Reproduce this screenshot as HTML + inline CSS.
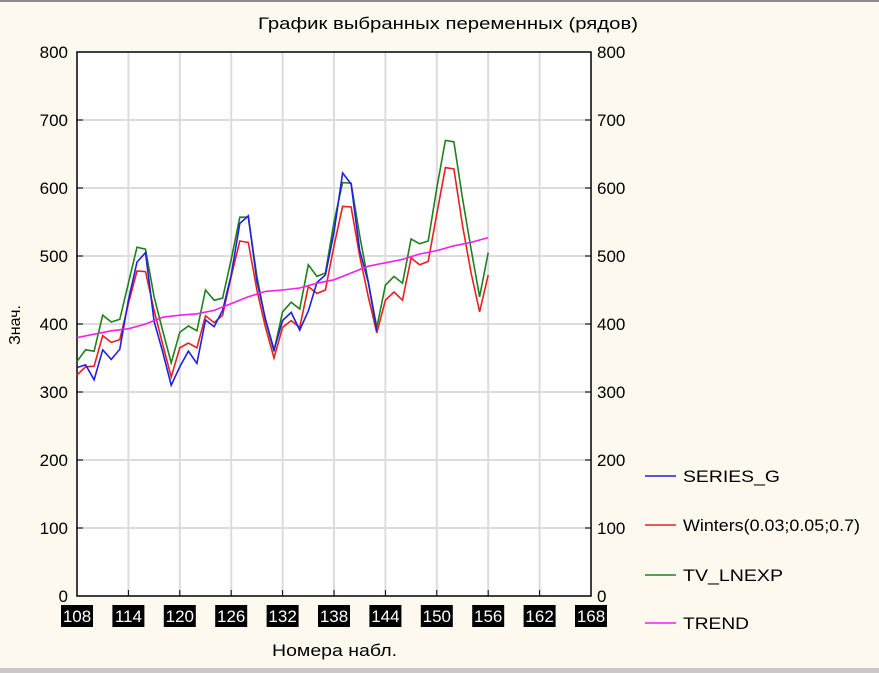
<!DOCTYPE html>
<html><head><meta charset="utf-8"><style>
body{margin:0;background:#fdf9ef;}
svg{display:block;font-family:"Liberation Sans",sans-serif;}
</style></head><body>
<svg id="c" width="879" height="673">
<rect x="0" y="0" width="879" height="673" fill="#fdf9ef"/>
<rect x="0" y="0" width="879" height="2" fill="#8a8a8a"/>
<rect x="0" y="668" width="879" height="5" fill="#c8c8c8"/>
<text x="258" y="29" font-size="17" textLength="380" lengthAdjust="spacingAndGlyphs" fill="#000">График выбранных переменных (рядов)</text>
<text x="272" y="656" font-size="17" textLength="125" lengthAdjust="spacingAndGlyphs" fill="#000">Номера набл.</text>
<text x="0" y="0" font-size="16" text-anchor="middle" fill="#000" transform="translate(20,325) rotate(-90)">Знач.</text>
<g id="plot"></g>
</svg>
<script>
const xTicks=[108,114,120,126,132,138,144,150,156,162,168];
const yTicks=[0,100,200,300,400,500,600,700,800];
const cases=[108,109,110,111,112,113,114,115,116,117,118,119,120,121,122,123,124,125,126,127,128,129,130,131,132,133,134,135,136,137,138,139,140,141,142,143,144,145,146,147,148,149,150,151,152,153,154,155,156];
const seriesG=[336,340,318,362,348,363,435,491,505,404,359,310,337,360,342,406,396,420,472,548,559,463,407,362,405,417,391,419,461,472,535,622,606,508,461,390];
const winters=[325,337,338,383,373,377,430,478,477,420,370,322,365,372,365,412,402,413,470,522,520,450,395,350,395,405,395,455,445,450,515,573,572,500,440,387,435,447,435,497,487,492,562,630,628,545,475,418,472];
const tvLnexp=[345,362,360,413,403,407,460,513,510,440,390,343,388,397,390,450,435,438,495,557,557,470,405,360,418,432,422,487,470,475,550,608,607,530,462,395,457,470,460,525,518,522,600,670,668,585,510,440,505];
const trendCases=[108,110,112,114,116,118,120,122,124,126,128,130,132,134,136,138,140,142,144,146,148,150,152,154,156];
const trend=[380,385,390,393,400,410,413,415,420,430,440,448,450,453,460,465,475,485,490,495,503,508,515,520,527];
const seriesNames=["SERIES_G","Winters(0.03;0.05;0.7)","TV_LNEXP","TREND"];
const legendWidths=[97,177,100,66];
const seriesColors=["#2020e0","#e82020","#208020","#f020f0"];

const X0=77,X1=591,Y0=596,Y1=52;
const xs=v=>X0+(v-108)/(168-108)*(X1-X0);
const ys=v=>Y0-(v/800)*(Y0-Y1);
const NS="http://www.w3.org/2000/svg";
const g=document.getElementById('plot');
function mk(t,a,p){const e=document.createElementNS(NS,t);for(const k in a)e.setAttribute(k,a[k]);(p||g).appendChild(e);return e;}
mk('rect',{x:X0,y:Y1,width:X1-X0,height:Y0-Y1,fill:'#fff'});
xTicks.forEach(t=>{
 const x=xs(t);
 if(t>108&&t<168){const l=mk('line',{x1:x,x2:x,y1:Y1,y2:Y0,stroke:'#dcdcdc','stroke-width':2});
 
 }
 mk('line',{x1:x,x2:x,y1:Y0-6,y2:Y0,stroke:'#000'});
 const r=mk('rect',{x:x-16,y:605,width:32,height:22,fill:'#000'});
 
 
 const tx=mk('text',{x:x,y:622,'font-size':17,'text-anchor':'middle',fill:'#fff'});
 tx.textContent=t;
 
 
});
yTicks.forEach(t=>{
 const y=ys(t);
 if(t>0&&t<800){const l=mk('line',{x1:X0,x2:X1,y1:y,y2:y,stroke:'#dcdcdc','stroke-width':2});
 
 }
 mk('line',{x1:X0,x2:X0+6,y1:y,y2:y,stroke:'#000'});
 mk('line',{x1:X1-6,x2:X1,y1:y,y2:y,stroke:'#000'});
 const a=mk('text',{x:68,y:y+6,'font-size':17,'text-anchor':'end',fill:'#000'});
 a.textContent=t;
 
 
 const b=mk('text',{x:597,y:y+6,'font-size':17,fill:'#000'});
 b.textContent=t;
 
 
});
mk('rect',{x:X0,y:Y1,width:X1-X0,height:Y0-Y1,fill:'none',stroke:'#000','stroke-width':1.5});
function line(xsArr,vals,col,name){
 const pts=vals.map((v,i)=>xs(xsArr[i]).toFixed(1)+','+ys(v).toFixed(1)).join(' ');
 const p=mk('polyline',{points:pts,fill:'none',stroke:col,'stroke-width':1.6});
 
 
}
line(cases,tvLnexp,seriesColors[2],'tv-lnexp-line');
line(cases,winters,seriesColors[1],'winters-line');
line(cases,seriesG,seriesColors[0],'series-g-line');
line(trendCases,trend,seriesColors[3],'trend-line');
const legY=[476,525,575,623];
seriesNames.forEach((n,i)=>{
 const l=mk('line',{x1:645,x2:676,y1:legY[i],y2:legY[i],stroke:seriesColors[i],'stroke-width':1.6});
 
 
 const t=mk('text',{x:683,y:legY[i]+6,'font-size':17,fill:'#000',textLength:legendWidths[i],lengthAdjust:'spacingAndGlyphs'});
 t.textContent=n;
 
 
});
</script>
</body></html>
